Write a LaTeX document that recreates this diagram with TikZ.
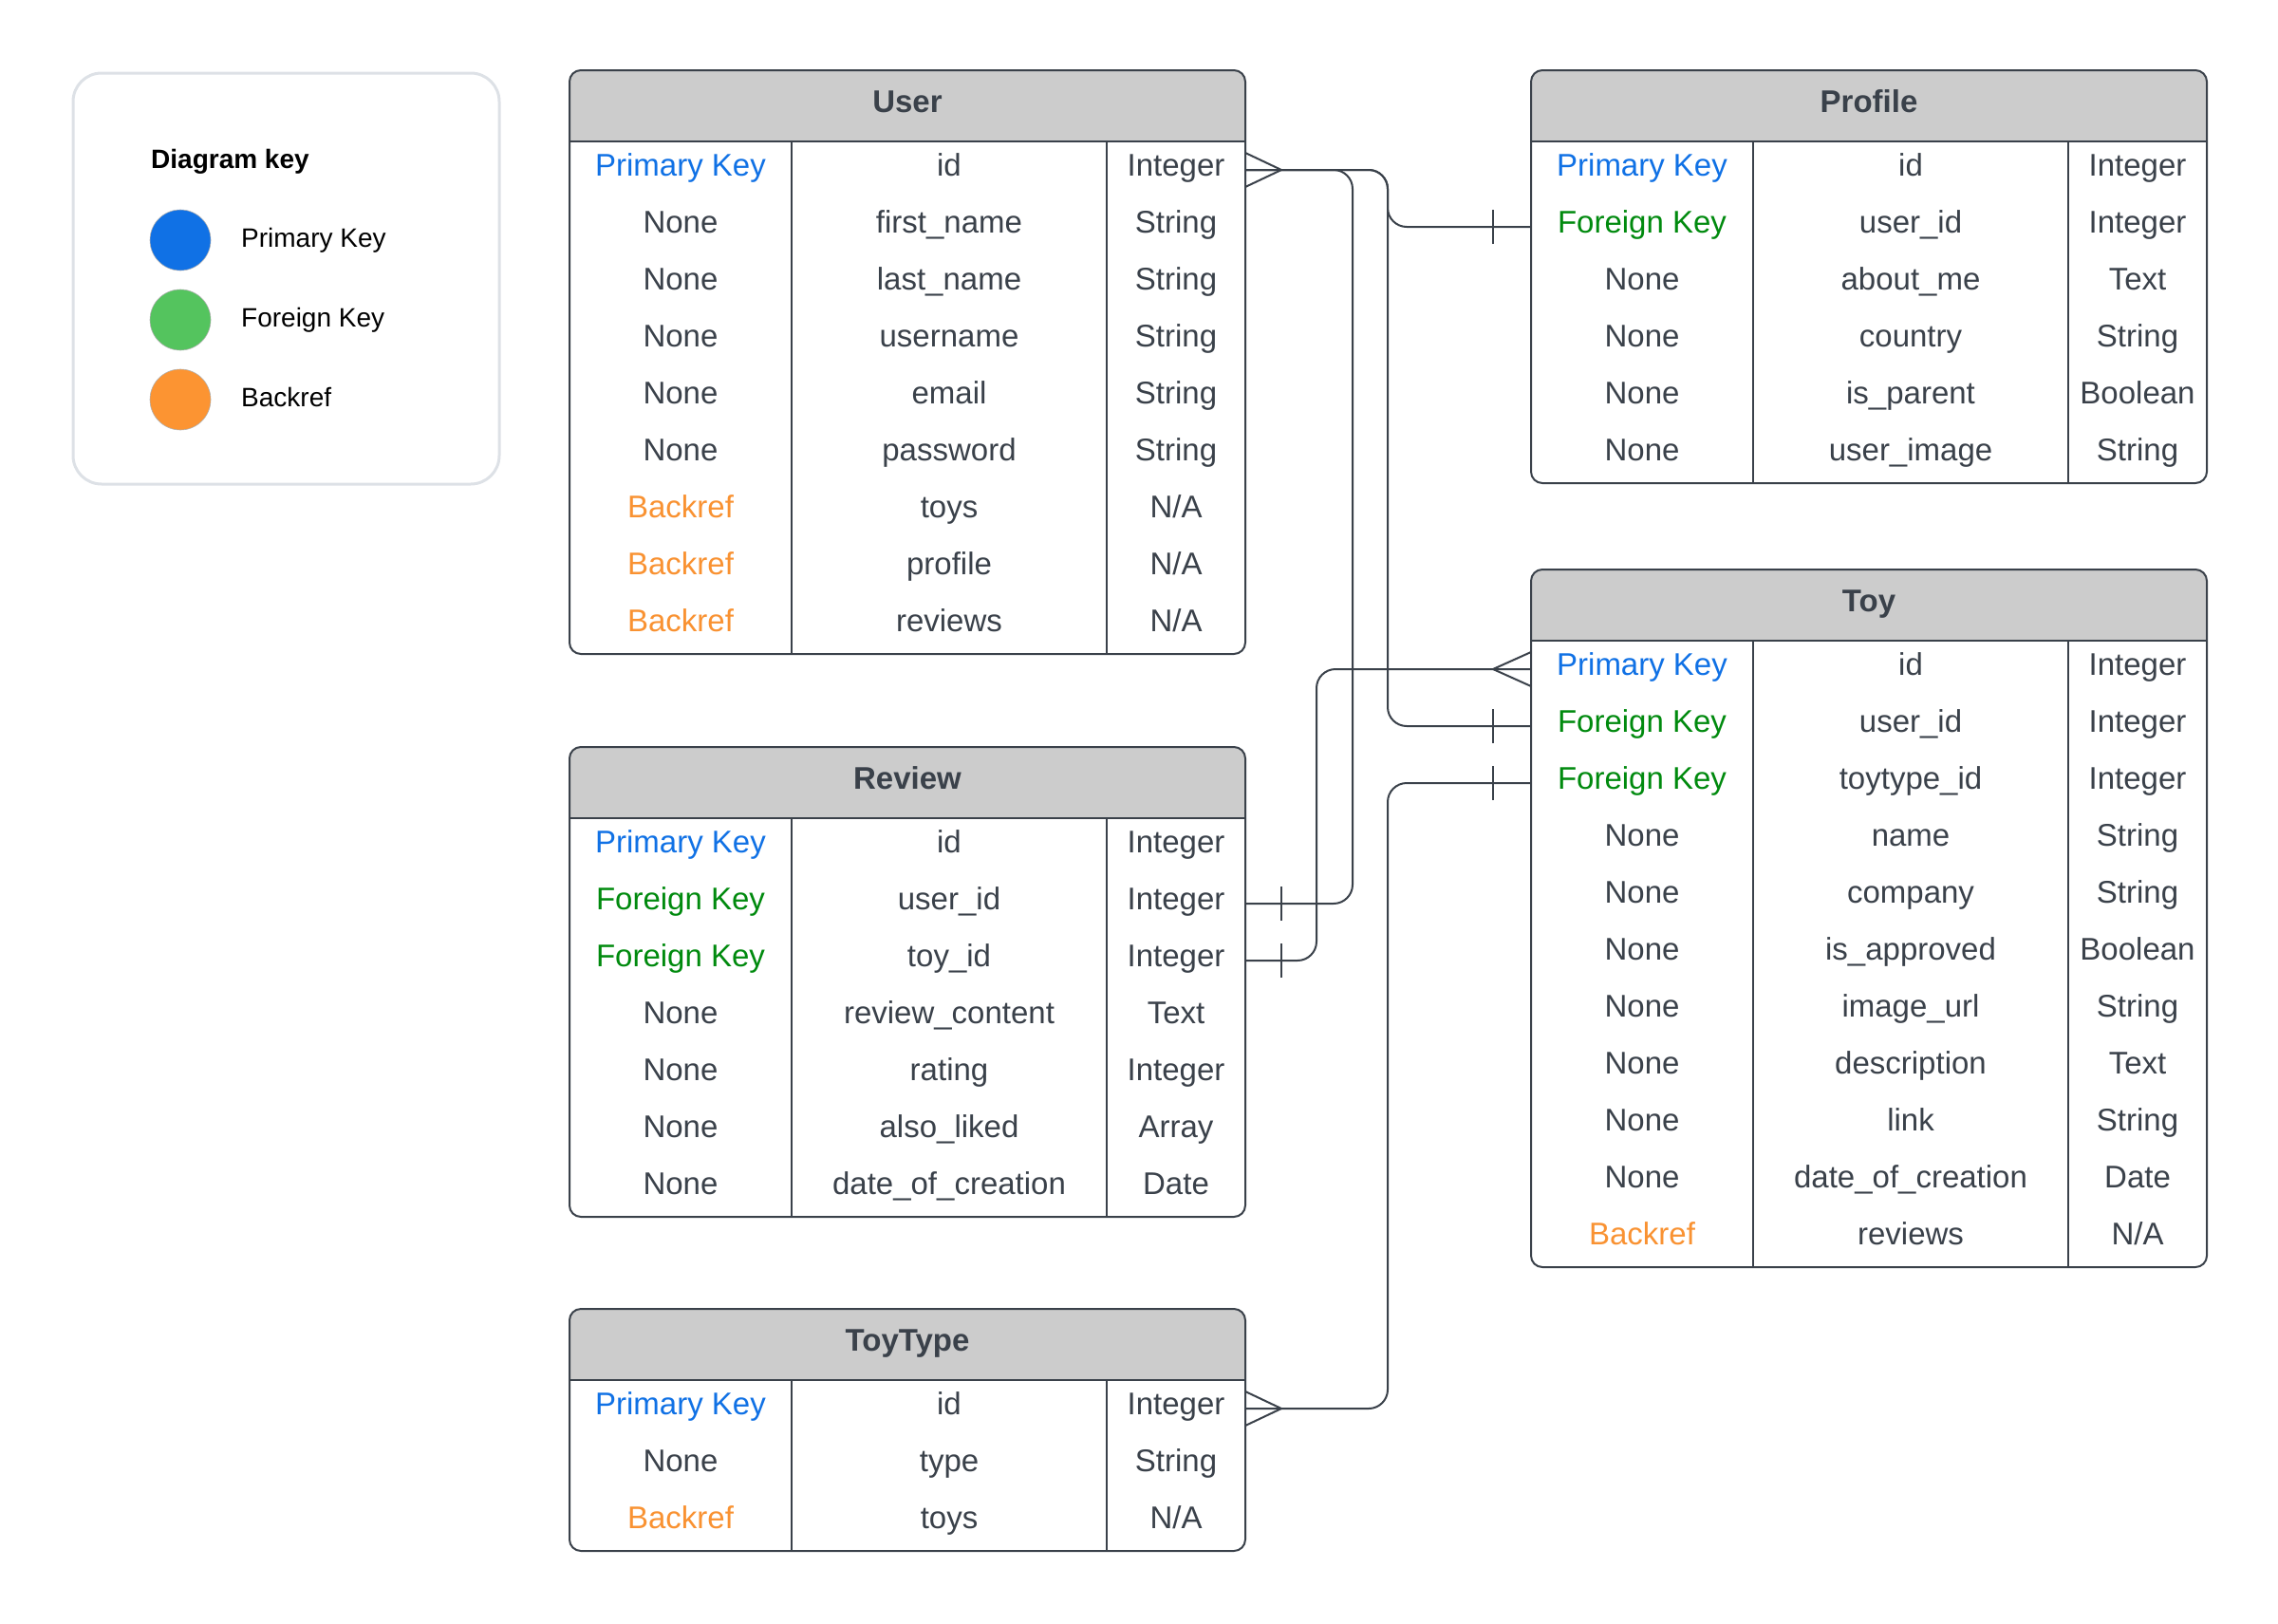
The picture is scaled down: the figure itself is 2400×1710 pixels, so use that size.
\documentclass[tikz,border=0pt]{standalone}
\usepackage{fontspec}
\setmainfont{Liberation Sans}
\definecolor{ink}{HTML}{3A414A}
\definecolor{hdrgray}{HTML}{CCCCCC}
\definecolor{pkblue}{HTML}{1071E5}
\definecolor{fkgreen}{HTML}{008A0E}
\definecolor{brorange}{HTML}{F99232}
\definecolor{keyblue}{HTML}{1071E5}
\definecolor{keygreen}{HTML}{54C45E}
\definecolor{keyorange}{HTML}{FC9432}
\definecolor{keyborder}{HTML}{DDE1E6}
\tikzset{
  tline/.style={draw=ink, line width=2pt},
  tbl/.style={draw=ink, line width=2pt, rounded corners=12pt, minimum width=712pt, inner sep=0pt, outer sep=0pt},
  hdrtext/.style={anchor=base, text=ink, font=\fontsize{33}{40}\selectfont\bfseries, inner sep=0pt},
  cell/.style={anchor=base, text=ink, font=\fontsize{33}{40}\selectfont, inner sep=0pt},
  pk/.style={text=pkblue},
  fk/.style={text=fkgreen},
  br/.style={text=brorange},
  nn/.style={text=ink},
  conn/.style={draw=ink, line width=2pt, rounded corners=20pt},
  ermark/.style={draw=ink, line width=2pt},
  keytext/.style={anchor=base west, text=black, font=\fontsize{28}{34}\selectfont, inner sep=0pt},
  keydot/.style={circle, minimum size=64pt, inner sep=0pt, draw=gray!60, line width=0.6pt},
}
% #1 name, #2 left, #3 top, #4 title, #5 nrows, #6 rows style/kind/field/type
\newcommand{\ertab}[6]{%
  \pgfmathsetmacro{\tabH}{75+60*#5}%
  \begin{scope}
    \clip[rounded corners=12pt] (#2,#3) rectangle ++(712,\tabH);
    \fill[white] (#2,#3) rectangle ++(712,\tabH);
    \fill[hdrgray] (#2,#3) rectangle ++(712,75);
  \end{scope}
  \node[tbl, minimum height=\tabH pt, anchor=north west] (#1) at (#2,#3) {};
  \draw[tline] (#2,#3+75) -- ++(712,0);
  \draw[tline] (#2+234,#3+75) -- (#2+234,#3+\tabH);
  \draw[tline] (#2+566,#3+75) -- (#2+566,#3+\tabH);
  \node[hdrtext] (#1-title) at (#2+356,#3+44.5) {#4};
  \foreach \s/\k/\f/\t [count=\i] in {#6} {
    \pgfmathsetmacro{\yy}{#3+75+60*\i-30}
    \coordinate (#1-r\i-W) at (#2,\yy);
    \coordinate (#1-r\i-E) at (#2+712,\yy);
    \node[cell, \s] (#1-k\i) at (#2+117,\yy+6.5) {\k};
    \node[cell] (#1-f\i) at (#2+400,\yy+6.5) {\f};
    \node[cell] (#1-t\i) at (#2+639,\yy+6.5) {\t};
  }
}
\begin{document}
\begin{tikzpicture}[x=1pt,y=-1pt]
\useasboundingbox (0,0) rectangle (2400,1710);
% key
\node[draw=keyborder, line width=3pt, rounded corners=30pt, minimum width=449pt, minimum height=433pt, anchor=north west, inner sep=0pt] (keybox) at (75.5,75.5) {};
\node[anchor=base west, text=black, font=\fontsize{28}{34}\selectfont\bfseries, inner sep=0pt] (keytitle) at (159,177) {Diagram key};
\node[keydot, fill=keyblue] (dotpk) at (190,253) {};
\node[keydot, fill=keygreen] (dotfk) at (190,337) {};
\node[keydot, fill=keyorange] (dotbr) at (190,421) {};
\node[keytext] (labpk) at (254,260) {Primary Key};
\node[keytext] (labfk) at (254,344) {Foreign Key};
\node[keytext] (labbr) at (254,428) {Backref};
% tables
\ertab{User}{600}{74}{User}{9}{pk/Primary Key/id/Integer, nn/None/first\_name/String, nn/None/last\_name/String, nn/None/username/String, nn/None/email/String, nn/None/password/String, br/Backref/toys/N\slash A, br/Backref/profile/N\slash A, br/Backref/reviews/N\slash A}
\ertab{Profile}{1613}{74}{Profile}{6}{pk/Primary Key/id/Integer, fk/Foreign Key/user\_id/Integer, nn/None/about\_me/Text, nn/None/country/String, nn/None/is\_parent/Boolean, nn/None/user\_image/String}
\ertab{Toy}{1613}{600}{Toy}{11}{pk/Primary Key/id/Integer, fk/Foreign Key/user\_id/Integer, fk/Foreign Key/toytype\_id/Integer, nn/None/name/String, nn/None/company/String, nn/None/is\_approved/Boolean, nn/None/image\_url/String, nn/None/description/Text, nn/None/link/String, nn/None/date\_of\_creation/Date, br/Backref/reviews/N\slash A}
\ertab{Review}{600}{787}{Review}{7}{pk/Primary Key/id/Integer, fk/Foreign Key/user\_id/Integer, fk/Foreign Key/toy\_id/Integer, nn/None/review\_content/Text, nn/None/rating/Integer, nn/None/also\_liked/Array, nn/None/date\_of\_creation/Date}
\ertab{ToyType}{600}{1379}{ToyType}{3}{pk/Primary Key/id/Integer, nn/None/type/String, br/Backref/toys/N\slash A}
% connectors
\draw[conn] (User-r1-E) -| ([xshift=113pt]Review-r2-E) -- (Review-r2-E);
\draw[conn] (User-r1-E) -| ([xshift=-151pt]Profile-r2-W) -- (Profile-r2-W);
\draw[conn] (User-r1-E) -| ([xshift=-151pt]Toy-r2-W) -- (Toy-r2-W);
\draw[conn] (Toy-r1-W) -| ([xshift=75pt]Review-r3-E) -- (Review-r3-E);
\draw[conn] (ToyType-r1-E) -| ([xshift=-151pt]Toy-r3-W) -- (Toy-r3-W);
% crow's feet (many)
\draw[ermark] ([yshift=-18pt]User-r1-E) -- ([xshift=38pt]User-r1-E) -- ([yshift=18pt]User-r1-E);
\draw[ermark] ([yshift=-18pt]Toy-r1-W) -- ([xshift=-40pt]Toy-r1-W) -- ([yshift=18pt]Toy-r1-W);
\draw[ermark] ([yshift=-18pt]ToyType-r1-E) -- ([xshift=38pt]ToyType-r1-E) -- ([yshift=18pt]ToyType-r1-E);
% ticks (one)
\draw[ermark] ([xshift=38pt,yshift=-18pt]Review-r2-E) -- ([xshift=38pt,yshift=18pt]Review-r2-E);
\draw[ermark] ([xshift=38pt,yshift=-18pt]Review-r3-E) -- ([xshift=38pt,yshift=18pt]Review-r3-E);
\draw[ermark] ([xshift=-40pt,yshift=-18pt]Profile-r2-W) -- ([xshift=-40pt,yshift=18pt]Profile-r2-W);
\draw[ermark] ([xshift=-40pt,yshift=-18pt]Toy-r2-W) -- ([xshift=-40pt,yshift=18pt]Toy-r2-W);
\draw[ermark] ([xshift=-40pt,yshift=-18pt]Toy-r3-W) -- ([xshift=-40pt,yshift=18pt]Toy-r3-W);
\end{tikzpicture}
\end{document}
